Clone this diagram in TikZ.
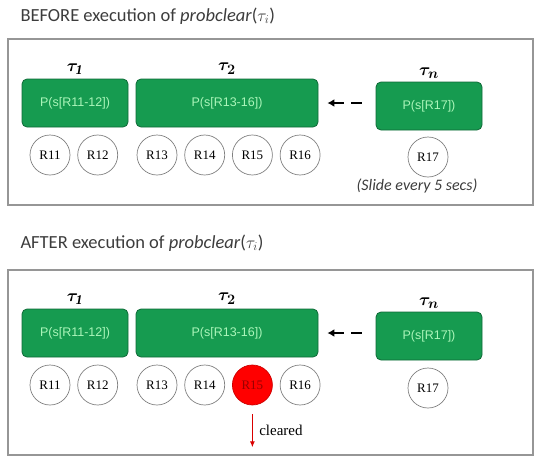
\documentclass[tikz,border=0pt]{standalone}
\usepackage{fontspec}
\setmainfont{Liberation Serif}
\newfontfamily\titlefont{Carlito}
\newfontfamily\boxfont{Liberation Sans}
\usetikzlibrary{positioning,arrows.meta}
\definecolor{taskgreen}{RGB}{22,155,80}
\definecolor{taskedge}{RGB}{15,105,55}
\definecolor{tasktext}{RGB}{170,245,185}
\definecolor{framegray}{RGB}{150,150,150}
\definecolor{titlegray}{RGB}{60,60,60}
\tikzset{
  task/.style={draw=taskedge,fill=taskgreen,rounded corners=5pt,line width=0.8pt,
    minimum height=48pt,text=tasktext,font=\boxfont\fontsize{12.5}{14}\selectfont},
  res/.style={circle,draw=gray,line width=0.7pt,minimum size=40pt,inner sep=0pt,
    font=\fontsize{13}{15}\selectfont},
  cleared res/.style={res,fill=red,draw=red!80!black,text=red!60!black},
  frame/.style={draw=framegray,line width=1.6pt},
  heading/.style={anchor=west,text=titlegray,font=\titlefont\fontsize{18.5}{20}\selectfont},
  tasklabel/.style={font=\boldmath\fontsize{19}{21}\selectfont},
  slide/.style={draw=black,line width=2pt,dash pattern=on 11pt off 7pt,-{Latex[length=7pt,width=8pt]}}
}
\begin{document}
\begin{tikzpicture}[x=1pt,y=-1pt,node distance=7pt]
\useasboundingbox (0,0) rectangle (535,458);

% before
\node[heading] (title1) at (17,16) {BEFORE execution of \textit{probclear}($\tau_i$)};
\draw[frame] (8,39) rectangle (533,205);
\node[task,minimum width=106pt] (t1) at (75,103) {P(s[R11-12])};
\node[task,minimum width=182pt] (t2) at (227,103) {P(s[R13-16])};
\node[task,minimum width=106pt] (tn) at (429,106) {P(s[R17])};
\node[tasklabel,above=1pt of t1] {$\tau_{\mathit{1}}$};
\node[tasklabel,above=1pt of t2] {$\tau_2$};
\node[tasklabel,above=0pt of tn] {$\tau_n$};
\node[res] (r11) at (50,155) {R11};
\node[res,right=of r11] (r12) {R12};
\node[res] (r13) at (157,155) {R13};
\node[res,right=of r13] (r14) {R14};
\node[res,right=of r14] (r15) {R15};
\node[res,right=of r15] (r16) {R16};
\node[res] (r17) at (428,157) {R17};
\node[below=-2pt of r17,xshift=-11pt,text=titlegray,font=\titlefont\itshape\fontsize{16}{18}\selectfont] {(Slide every 5 secs)};
\coordinate (s1) at ([xshift=-14pt]tn.west |- t2.east);
\coordinate (s2) at ([xshift=9pt]t2.east);
\draw[slide] (s1) -- (s2);

% after
\node[heading] (title2) at (17,243) {AFTER execution of \textit{probclear}($\tau_i$)};
\draw[frame] (8,270) rectangle (533,455);
\node[task,minimum width=106pt] (a1) at (75,333) {P(s[R11-12])};
\node[task,minimum width=182pt] (a2) at (227,333) {P(s[R13-16])};
\node[task,minimum width=106pt] (an) at (429,336) {P(s[R17])};
\node[tasklabel,above=1pt of a1] {$\tau_{\mathit{1}}$};
\node[tasklabel,above=1pt of a2] {$\tau_2$};
\node[tasklabel,above=0pt of an] {$\tau_n$};
\node[res] (q11) at (50,385) {R11};
\node[res,right=of q11] (q12) {R12};
\node[res] (q13) at (157,385) {R13};
\node[res,right=of q13] (q14) {R14};
\node[cleared res,right=of q14] (q15) {R15};
\node[res,right=of q15] (q16) {R16};
\node[res] (q17) at (428,388) {R17};
\coordinate (u1) at ([xshift=-14pt]an.west |- a2.east);
\coordinate (u2) at ([xshift=9pt]a2.east);
\draw[slide] (u1) -- (u2);
\coordinate[below=42pt of q15] (gone);
\draw[red!85!black,line width=1.2pt,-{Latex[length=6pt,width=5pt]}] ([yshift=-9pt]q15.south) -- (gone)
  node[midway,right=3pt,text=black,font=\fontsize{15}{17}\selectfont] {cleared};
\end{tikzpicture}
\end{document}
